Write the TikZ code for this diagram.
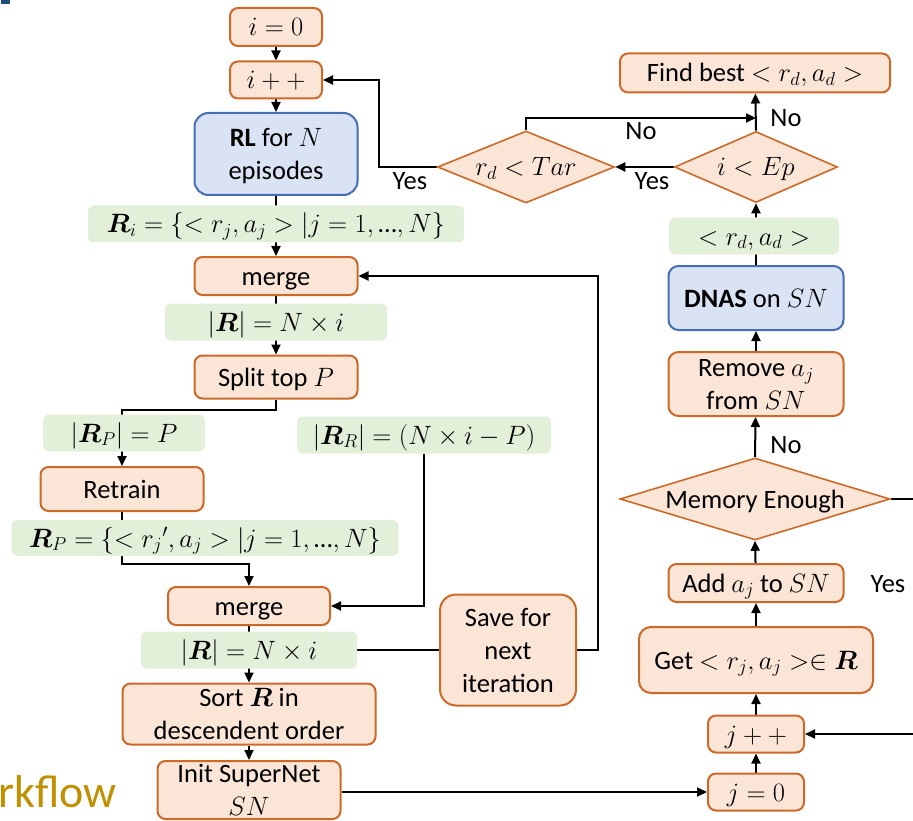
\RequirePackage{fix-cm}
\documentclass[tikz,border=0pt]{standalone}
\usepackage{amsmath}
\usepackage{bm}
\usepackage[no-math]{fontspec}
\setmainfont{Carlito}
\usetikzlibrary{arrows.meta,shapes.geometric}

\definecolor{boxline}{RGB}{205,105,40}
\definecolor{boxfill}{RGB}{251,229,214}
\definecolor{blueline}{RGB}{68,110,180}
\definecolor{bluefill}{RGB}{218,227,243}
\definecolor{valfill}{RGB}{226,240,217}
\definecolor{gold}{RGB}{191,144,0}
\definecolor{markblue}{RGB}{31,78,121}

\pgfdeclarelayer{background}
\pgfsetlayers{background,main}

\newcommand{\ellip}{\text{\char"2026}}

\begin{document}
\begin{tikzpicture}[x=1pt,y=-1pt,
  every node/.style={font=\fontsize{26.5pt}{33pt}\selectfont},
  oneline/.style={text height=21pt,text depth=3pt},
  twolines/.style={text height=54pt,text depth=3pt},
  threelines/.style={text height=87pt,text depth=3pt},
  proc/.style={draw=boxline,fill=boxfill,line width=2pt,rounded corners=8pt,inner sep=0pt,align=center,oneline},
  learn/.style={proc,draw=blueline,fill=bluefill},
  value/.style={fill=valfill,rounded corners=6pt,inner sep=0pt,align=center,oneline},
  test/.style={diamond,draw=boxline,fill=boxfill,line width=1.6pt,inner sep=0pt,align=center,oneline},
  flow/.style={line width=2pt,-{Triangle[length=10pt,width=9pt]}},
  link/.style={line width=2pt},
  tag/.style={inner sep=0pt,anchor=base},
]
\useasboundingbox (0,0) rectangle (913,821);

% corner mark and slide title remnant
\fill[markblue] (1,0) rectangle (10,4);
\node[anchor=base west,inner sep=0pt,font=\fontsize{46pt}{52pt}\selectfont,text=gold] (wf) at (-2,807) {rkflow};

% left column: RL search and sorting
\node[proc,minimum width=92pt,minimum height=38pt] (i0) at (276,27) {$i=0$};
\node[proc,minimum width=92pt,minimum height=37pt] (ipp) at (276,80) {$i++$};
\node[learn,twolines,minimum width=163pt,minimum height=82pt,rounded corners=14pt] (rl) at (276,154) {{\bfseries RL} for $N$\\episodes};
\node[value,minimum width=376pt,minimum height=37pt] (Ri) at (276,224) {$\bm{R}_i=\{<r_j,a_j>|j=1,\ellip,N\}$};
\node[proc,minimum width=163pt,minimum height=38pt] (merge1) at (276,276) {merge};
\node[value,minimum width=222pt,minimum height=37pt] (Rsz1) at (276,322) {$|\bm{R}|=N\times i$};
\node[proc,minimum width=163pt,minimum height=43pt] (split) at (276,377) {Split top $P$};
\node[value,minimum width=162pt,minimum height=37pt] (RPsz) at (124,433) {$|\bm{R}_P|=P$};
\node[value,minimum width=254pt,minimum height=37pt] (RRsz) at (424,435) {$|\bm{R}_R|=(N\times i-P)$};
\node[proc,minimum width=163pt,minimum height=44pt] (retrain) at (122,489) {Retrain};
\node[value,minimum width=387pt,minimum height=36pt] (RP) at (205,538) {$\bm{R}_P=\{<{r_j}',a_j>|j=1,\ellip,N\}$};
\node[proc,minimum width=162pt,minimum height=38pt] (merge2) at (249,606) {merge};
\node[value,minimum width=216pt,minimum height=37pt] (Rsz2) at (249,650) {$|\bm{R}|=N\times i$};
\node[proc,twolines,minimum width=253pt,minimum height=61pt] (sort) at (249,714) {Sort $\bm{R}$ in\\descendent order};
\node[proc,twolines,minimum width=183pt,minimum height=58pt] (init) at (249,790) {Init SuperNet\\$SN$};
\node[proc,threelines,minimum width=136pt,minimum height=111pt,rounded corners=16pt] (save) at (508,650) {Save for\\next\\iteration};

% right column: DNAS on the supernet
\node[proc,minimum width=96pt,minimum height=37pt] (j0) at (756,792) {$j=0$};
\node[proc,minimum width=96pt,minimum height=37pt] (jpp) at (756,734) {$j++$};
\node[proc,minimum width=234pt,minimum height=66pt,rounded corners=12pt] (get) at (756,660) {Get $<r_j,a_j>\in\bm{R}$};
\node[proc,minimum width=175pt,minimum height=38pt] (add) at (756,583) {Add $a_j$ to $SN$};
\node[test,shape aspect=3.3,minimum width=270pt,minimum height=82pt] (mem) at (755,499) {Memory Enough};
\node[proc,twolines,minimum width=175pt,minimum height=64pt,rounded corners=10pt] (remove) at (756,384) {Remove $a_j$\\from $SN$};
\node[learn,minimum width=175pt,minimum height=64pt,rounded corners=10pt] (dnas) at (756,298) {{\bfseries DNAS} on $SN$};
\node[value,minimum width=170pt,minimum height=37pt] (rd) at (754,236) {$<r_d,a_d>$};
\node[test,shape aspect=2.3,minimum width=163pt,minimum height=71pt] (iep) at (756,167) {$i<Ep$};
\node[test,shape aspect=2.46,minimum width=177pt,minimum height=72pt] (tar) at (526,167) {$r_d<Tar$};
\node[proc,minimum width=270pt,minimum height=39pt] (find) at (755,73) {Find best $<r_d,a_d>$};

% branch labels
\node[tag] (yesA) at (410,190) {Yes};
\node[tag] (yesB) at (652,190) {Yes};
\node[tag] (noA) at (641,140) {No};
\node[tag] (noB) at (786,127) {No};
\node[tag] (noC) at (786,453) {No};
\node[tag] (yesC) at (888,592) {Yes};

\coordinate (mid) at (756,118);
\coordinate (rin) at (913,734);
\coordinate (rout) at (913,499);

\begin{pgfonlayer}{background}
\draw[flow] (i0) -- (ipp);
\draw[flow] (ipp) -- (rl);
\draw[flow] (rl) -- (merge1);
\draw[flow] (merge1) -- (split);
\draw[flow] (split.south) -- ++(0,10) -| (retrain.north);
\draw[flow] (retrain.south) -- ++(0,52) -| (merge2.north);
\draw[flow] (RRsz.south) |- (merge2.east);
\draw[flow] (merge2) -- (sort);
\draw[link] (Rsz2.east) -- (save.west);
\draw[flow] (save.east) -- ++(21,0) |- (merge1.east);
\draw[flow] (sort) -- (init);
\draw[flow] (init.east |- j0.west) -- (j0.west);
\draw[flow] (j0) -- (jpp);
\draw[flow] (rin) -- (jpp.east);
\draw[flow] (jpp) -- (get);
\draw[flow] (get) -- (add);
\draw[flow] (add) -- (mem.south);
\draw[link] (mem.east) -- (rout);
\draw[flow] (mem.north) -- (remove);
\draw[flow] (remove) -- (dnas);
\draw[flow] (dnas) -- (iep.south);
\draw[flow] (iep.north) -- (find);
\draw[flow] (iep.west) -- (tar.east);
\draw[flow] (tar.north) |- (mid);
\draw[flow] (tar.west) -- ++(-58,0) |- (ipp.east);
\end{pgfonlayer}
\end{tikzpicture}
\end{document}
